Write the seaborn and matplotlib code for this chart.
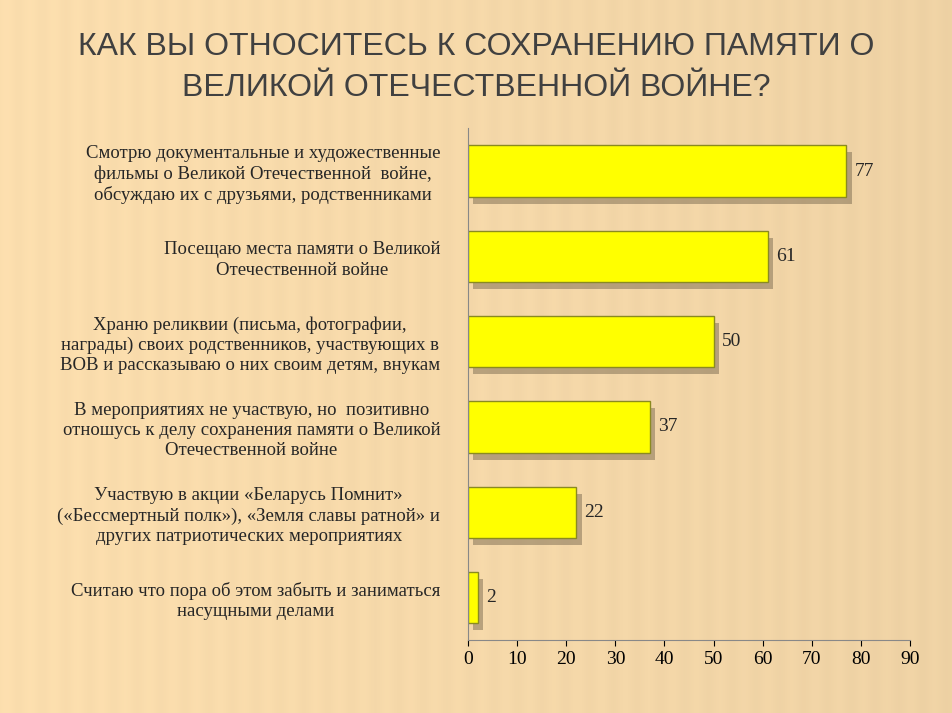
import matplotlib
matplotlib.use("Agg")
import matplotlib.pyplot as plt
import matplotlib.patheffects as pe
import seaborn as sns
import numpy as np
import pandas as pd

categories = [
    "Смотрю документальные и художественные\nфильмы о Великой Отечественной  войне,\nобсуждаю их с друзьями, родственниками",
    "Посещаю места памяти о Великой\nОтечественной войне",
    "Храню реликвии (письма, фотографии,\nнаграды) своих родственников, участвующих в\nВОВ и рассказываю о них своим детям, внукам",
    "В мероприятиях не участвую, но  позитивно\nотношусь к делу сохранения памяти о Великой\nОтечественной войне",
    "Участвую в акции «Беларусь Помнит»\n(«Бессмертный полк»), «Земля славы ратной» и\nдругих патриотических мероприятиях",
    "Считаю что пора об этом забыть и заниматься\nнасущными делами",
]
values = [77, 61, 50, 37, 22, 2]
x_ticks = [0, 10, 20, 30, 40, 50, 60, 70, 80, 90]
title = "КАК ВЫ ОТНОСИТЕСЬ К СОХРАНЕНИЮ ПАМЯТИ О\nВЕЛИКОЙ ОТЕЧЕСТВЕННОЙ ВОЙНЕ?"

sns.set_style("white")
plt.rcParams['font.family'] = ['Liberation Serif', 'DejaVu Serif']

fig = plt.figure(figsize=(9.53, 7.13), dpi=100)
bg = fig.add_axes([0, 0, 1, 1], zorder=-10)
cols = np.linspace(0, 1, 953)
stripe = 0.5 + 0.5 * np.sin(cols * 2 * np.pi * 40)
grad = 0.94 - 0.05 * cols + 0.015 * stripe
img = np.zeros((10, 953, 3))
img[..., 0] = np.clip(grad + 0.04, 0, 1)
img[..., 1] = grad * 0.92
img[..., 2] = grad * 0.72
bg.imshow(img, aspect="auto", extent=[0, 1, 0, 1])
bg.axis("off")

fig.text(0.5, 0.905, title, ha="center", va="center", fontsize=23,
         color="#404040", family=["Liberation Sans Narrow", "Liberation Sans", "DejaVu Sans"],
         linespacing=1.5)

ax = fig.add_axes([0.491, 0.102, 0.464, 0.718])
ax.patch.set_alpha(0)
df = pd.DataFrame({"cat": categories, "val": values})
sns.barplot(data=df, x="val", y="cat", orient="h", color="#FFFF00",
            saturation=1, width=0.6, edgecolor="#8a8a20", linewidth=1, ax=ax)
for p in ax.patches:
    p.set_path_effects([pe.SimplePatchShadow(offset=(4, -5), shadow_rgbFace="#7a6a50", alpha=0.5), pe.Normal()])
for c in ax.containers:
    ax.bar_label(c, padding=6, fontsize=14)
ax.set_xlim(0, 90)
ax.set_xticks(x_ticks)
ax.tick_params(axis="x", labelsize=14, length=4, bottom=True, colors="#000000")
ax.tick_params(axis="y", labelsize=13.5, length=0, pad=20)
for lab in ax.get_yticklabels():
    lab.set_horizontalalignment("right")
    lab.set_multialignment("center")
    lab.set_linespacing(1.25)
ax.set_xlabel("")
ax.set_ylabel("")
for s in ["top", "right"]:
    ax.spines[s].set_visible(False)
ax.spines["left"].set_color("#888888")
ax.spines["bottom"].set_color("#888888")
fig.savefig("out.png", dpi=100)
